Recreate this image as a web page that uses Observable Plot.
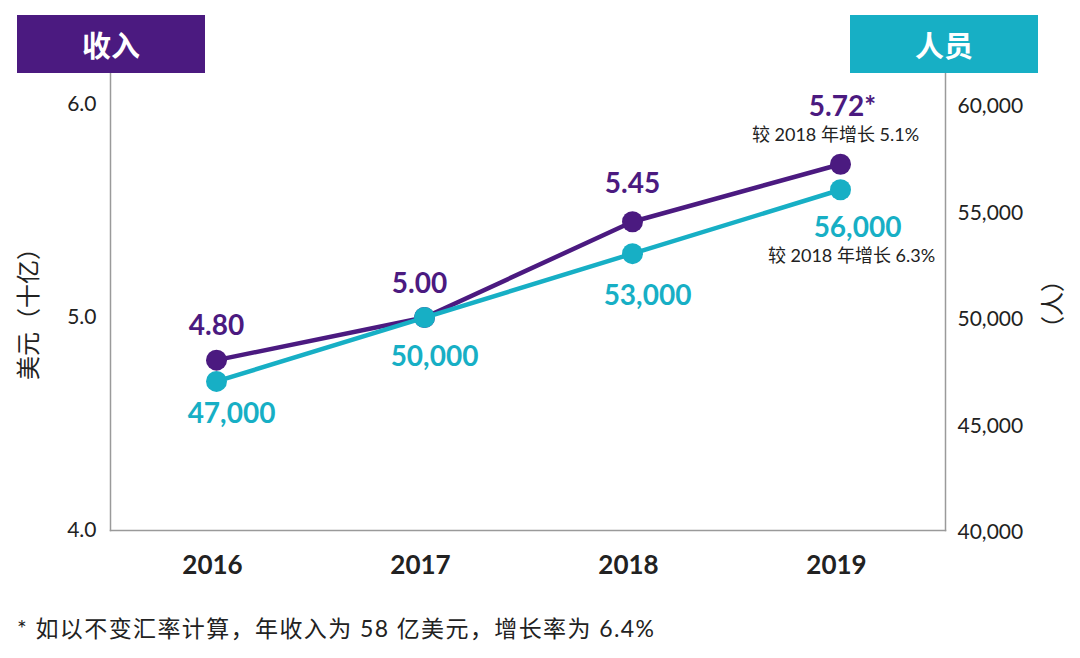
<!DOCTYPE html>
<html>
<head>
<meta charset="utf-8">
<script src="https://cdn.jsdelivr.net/npm/d3@7"></script>
<script src="https://cdn.jsdelivr.net/npm/@observablehq/plot@0.6"></script>
<style>
  body { margin: 0; background: #fff; }
  #wrap { position: relative; width: 1080px; height: 658px; overflow: hidden; font-family: Lato, "Noto Sans CJK SC", sans-serif; }
  .hdr { position: absolute; top: 15px; width: 188px; height: 58px; color: #fff; font-weight: 700; font-size: 29px;
         display: flex; align-items: center; justify-content: center; font-family: "Noto Sans CJK SC", sans-serif; }
  #foot { position: absolute; left: 17px; top: 616px; font-size: 23px; line-height: 24px; letter-spacing: 1.4px; color: #222; white-space: nowrap; }
</style>
</head>
<body>
<div id="wrap">
  <div id="chart"></div>
  <div class="hdr" id="h1" style="left:17px;background:#4b1a80;"></div>
  <div class="hdr" id="h2" style="left:850px;background:#17afc5;"></div>
  <div id="foot"></div>
</div>
<script>
const years = ["2016", "2017", "2018", "2019"];
const revenue = [4.80, 5.00, 5.45, 5.72];
const revenueLabels = ["4.80", "5.00", "5.45", "5.72*"];
const people = [47000, 50000, 53000, 56000];
const peopleLabels = ["47,000", "50,000", "53,000", "56,000"];
const revenueNote = "较 2018 年增长 5.1%";
const peopleNote = "较 2018 年增长 6.3%";
const leftTicks = [4, 5, 6];
const rightTicks = [40000, 45000, 50000, 55000, 60000];
const leftTitle = "美元（十亿）";
const rightTitle = "（人）";
const headerLeft = "收入";
const headerRight = "人员";
const footnote = "* 如以不变汇率计算，年收入为 58 亿美元，增长率为 6.4%";

const PURPLE = "#4b1a80";
const TEAL = "#17afc5";
const AXIS = "#9a9a9a";
const LATIN = "Lato, 'Noto Sans CJK SC', sans-serif";
const CJK = "'Noto Sans CJK SC', sans-serif";

const rev = years.map((y, i) => ({year: y, v: revenue[i], label: revenueLabels[i]}));
const ppl = years.map((y, i) => ({year: y, v: people[i] / 10000, label: peopleLabels[i]}));

function lbl(data, i, color, dx, dy, size = 28) {
  return Plot.text([data[i]], {x: "year", y: "v", text: "label", fill: color, fontWeight: 700,
    fontSize: size, dx, dy, fontFamily: LATIN});
}

const chart = Plot.plot({
  width: 1080,
  height: 600,
  marginLeft: 110,
  marginRight: 135,
  marginTop: 73,
  marginBottom: 70,
  style: {fontFamily: LATIN, background: "white", color: "#222"},
  x: {type: "point", domain: years, padding: 0.5},
  y: {domain: [4, 6.146]},
  marks: [
    Plot.frame({anchor: "left", stroke: AXIS, strokeWidth: 1.5}),
    Plot.frame({anchor: "right", stroke: AXIS, strokeWidth: 1.5}),
    Plot.frame({anchor: "bottom", stroke: AXIS, strokeWidth: 1.5}),
    Plot.axisY({ticks: leftTicks, tickFormat: d3.format(".1f"), tickSize: 0, tickPadding: 14, fontSize: 21, label: null}),
    Plot.axisY({anchor: "right", ticks: rightTicks.map(d => d / 10000), tickFormat: d => d3.format(",")(Math.round(d * 10000)),
      tickSize: 0, tickPadding: 12, fontSize: 21, dy: 2, label: null}),
    Plot.axisX({tickSize: 0, tickPadding: 25, fontSize: 26, fontWeight: 700, dx: -4, label: null}),
    Plot.text([leftTitle], {frameAnchor: "left", textAnchor: "middle", rotate: -90, dx: -81, dy: 6, fontSize: 24,
      fontFamily: CJK, fill: "#222"}),
    Plot.text([rightTitle], {frameAnchor: "right", textAnchor: "middle", rotate: -90, dx: 108, dy: 2, fontSize: 24,
      fontFamily: CJK, fill: "#222"}),
    Plot.line(rev, {x: "year", y: "v", stroke: PURPLE, strokeWidth: 4.5}),
    Plot.dot(rev, {x: "year", y: "v", fill: PURPLE, r: 10.5}),
    Plot.line(ppl, {x: "year", y: "v", stroke: TEAL, strokeWidth: 4.5}),
    Plot.dot(ppl, {x: "year", y: "v", fill: TEAL, r: 10.5}),
    lbl(rev, 0, PURPLE, 0, -34),
    lbl(rev, 1, PURPLE, -5, -34),
    lbl(rev, 2, PURPLE, 0, -38),
    lbl(rev, 3, PURPLE, 2, -57),
    lbl(ppl, 0, TEAL, 15, 33),
    lbl(ppl, 1, TEAL, 10, 39),
    lbl(ppl, 2, TEAL, 15, 42),
    lbl(ppl, 3, TEAL, 17, 38),
    Plot.text([rev[3]], {x: "year", y: "v", text: () => revenueNote, dx: -5, dy: -29, fontSize: 18, fill: "#222",
      fontFamily: LATIN}),
    Plot.text([ppl[3]], {x: "year", y: "v", text: () => peopleNote, dx: 11, dy: 66, fontSize: 18, fill: "#222",
      fontFamily: LATIN})
  ]
});
document.getElementById("chart").appendChild(chart);
document.getElementById("h1").textContent = headerLeft;
document.getElementById("h2").textContent = headerRight;
document.getElementById("foot").textContent = footnote;
</script>
</body>
</html>
